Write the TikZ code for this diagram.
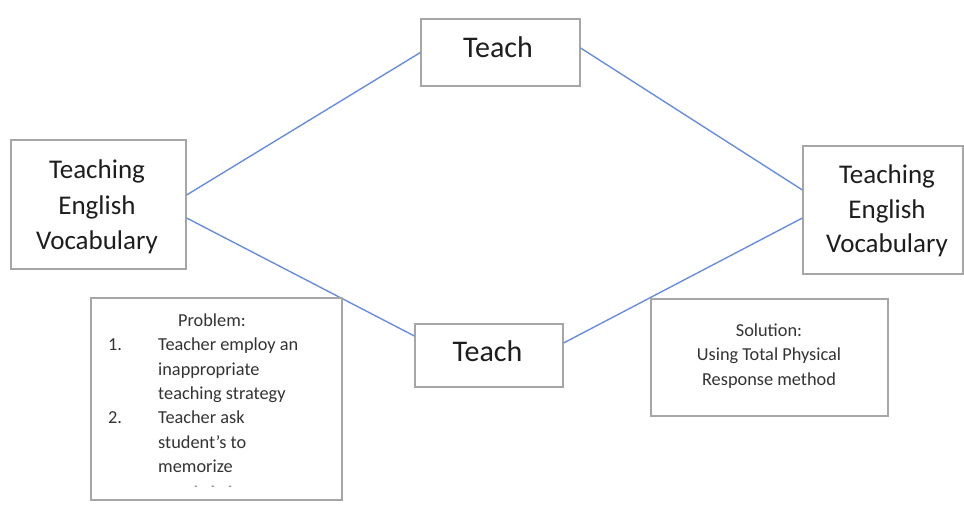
\documentclass[tikz,border=0pt]{standalone}
\usepackage{fontspec}
\setmainfont{Carlito}
\definecolor{boxgray}{HTML}{A6A6A6}
\definecolor{linkblue}{HTML}{6A8ED6}
\definecolor{txt}{HTML}{1E1E1E}
\definecolor{smalltxt}{HTML}{333333}
\begin{document}
\begin{tikzpicture}[x=1pt,y=-1pt,
  box/.style={draw=boxgray,line width=1.2pt,fill=white,inner sep=0pt},
  link/.style={draw=linkblue,line width=1.4pt},
  big/.style={inner sep=0pt,anchor=base,text=txt,font=\fontsize{27}{32}\selectfont},
  bigt/.style={inner sep=0pt,anchor=base,text=txt,font=\fontsize{30}{34}\selectfont},
  small/.style={inner sep=0pt,text=smalltxt,font=\fontsize{18.3}{22}\selectfont}
]
\useasboundingbox (0,0) rectangle (964,510);
% boxes
\node[box,minimum width=159pt,minimum height=67pt] (T) at (500.5,52.5) {};
\node[box,minimum width=175pt,minimum height=129pt] (L) at (98.5,204.5) {};
\node[box,minimum width=160pt,minimum height=128pt] (R) at (883,210) {};
\node[box,minimum width=148pt,minimum height=63pt] (B) at (489,355.5) {};
% connectors
\draw[link] ([yshift=9.5pt]L.east) -- (T.west);
\draw[link] ([yshift=4.5pt]T.east) -- ([yshift=20pt]R.west);
\draw[link] ([yshift=-13.5pt]L.east) -- ([yshift=19.5pt]B.west);
\draw[link] ([yshift=12.5pt]B.east) -- ([yshift=-8pt]R.west);
% lower boxes
\node[box,minimum width=251pt,minimum height=202pt] (P) at (216.5,399) {};
\node[box,minimum width=237pt,minimum height=117pt] (S) at (769.5,357.5) {};
% big texts
\node[bigt] (tT) at (498,57.3) {Teach};
\node[bigt] (tB) at (487.5,361.7) {Teach};
\node[big] (l1) at (97,179) {Teaching};
\node[big] (l2) at (97,215) {English};
\node[big] (l3) at (97,250) {Vocabulary};
\node[big] (r1) at (887,183.5) {Teaching};
\node[big] (r2) at (887,218.5) {English};
\node[big] (r3) at (887,253) {Vocabulary};
% problem text
\node[small,anchor=base] (p0) at (212,327) {Problem:};
\node[small,anchor=base west] (n1) at (108,351) {1.};
\node[small,anchor=base west] (p1) at (158,351) {Teacher employ an};
\node[small,anchor=base west] (p2) at (158,376) {inappropriate};
\node[small,anchor=base west] (p3) at (158,400) {teaching strategy};
\node[small,anchor=base west] (n2) at (108,424) {2.};
\node[small,anchor=base west] (p4) at (158,424) {Teacher ask};
\node[small,anchor=base west] (p5) at (158,448) {student’s to};
\node[small,anchor=base west] (p6) at (158,472) {memorize};
\node[small,font=\fontsize{10}{10}\selectfont] (pd) at (213,488) {-\hspace{14pt}-\hspace{14pt}-};
% solution text
\node[small,anchor=base] (s1) at (769,337) {Solution:};
\node[small,anchor=base] (s2) at (769,361) {Using Total Physical};
\node[small,anchor=base] (s3) at (769,386) {Response method};
\end{tikzpicture}
\end{document}
